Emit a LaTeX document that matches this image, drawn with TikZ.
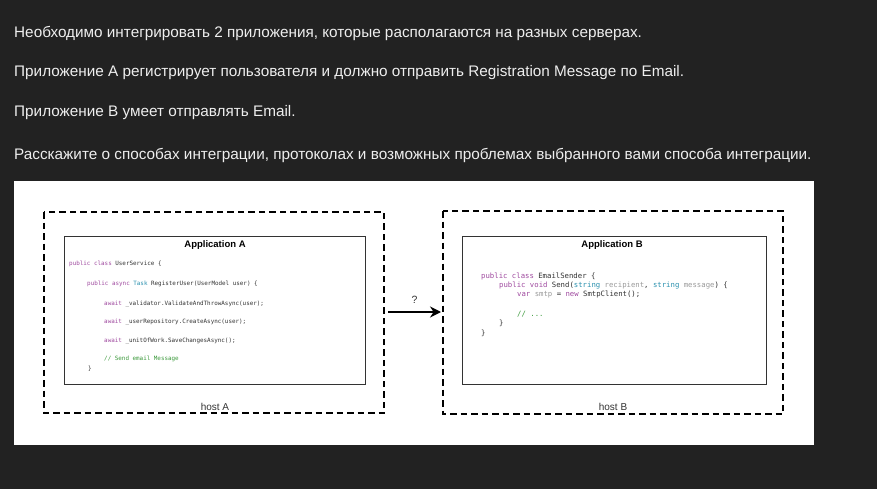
\documentclass[tikz,border=0pt]{standalone}
\usepackage{fontspec}
\setmainfont{Liberation Sans}
\newfontfamily\codefont{DejaVu Sans Mono}
\usetikzlibrary{arrows.meta}
\definecolor{bgdark}{HTML}{222222}
\definecolor{toptext}{HTML}{EEEEEE}
\definecolor{kw}{HTML}{A04BA0}
\definecolor{tp}{HTML}{2B91AF}
\definecolor{cm}{HTML}{3C9A3C}
\definecolor{idc}{HTML}{333333}
\definecolor{prm}{HTML}{9A9A9A}
\definecolor{boxline}{HTML}{333333}
\newcommand{\kwd}[1]{\textcolor{kw}{#1}}
\newcommand{\typ}[1]{\textcolor{tp}{#1}}
\newcommand{\cmt}[1]{\textcolor{cm}{#1}}
\newcommand{\prm}[1]{\textcolor{prm}{#1}}
\tikzset{
  toptxt/.style={anchor=west, inner sep=0pt, text=toptext, font=\fontsize{15.3}{17}\selectfont},
  hostbox/.style={draw=black, line width=1.9pt, dash pattern=on 6.5pt off 4pt},
  appbox/.style={draw=boxline, line width=0.9pt},
  title/.style={inner sep=0pt, font=\bfseries\fontsize{9.5}{11}\selectfont},
  codeA/.style={anchor=west, inner sep=0pt, text=idc, font=\codefont\fontsize{5.9}{7}\selectfont},
  codeB/.style={anchor=west, inner sep=0pt, text=idc, font=\codefont\fontsize{7.3}{8.5}\selectfont},
  hostlbl/.style={inner sep=0pt, font=\fontsize{10}{12}\selectfont, text=boxline},
}
\begin{document}
\begin{tikzpicture}[x=1pt,y=-1pt]
\fill[bgdark] (0,0) rectangle (877,489);
\useasboundingbox (0,0) rectangle (877,489);
\node[toptxt] (l1) at (14,33) {Необходимо интегрировать 2 приложения, которые располагаются на разных серверах.};
\node[toptxt] (l2) at (14,73) {Приложение А регистрирует пользователя и должно отправить Registration Message по Email.};
\node[toptxt] (l3) at (14,113) {Приложение В умеет отправлять Email.};
\node[toptxt] (l4) at (14,155) {Расскажите о способах интеграции, протоколах и возможных проблемах выбранного вами способа интеграции.};
\fill[white] (14,181) rectangle (814,445);
% host A
\draw[hostbox] (44,212) rectangle (384,413);
\draw[appbox, fill=white] (64,236) rectangle (365,384);
\node[title] (tA) at (215,245) {Application A};
\node[codeA] (a1) at (69,264) {\kwd{public class} UserService \{};
\node[codeA] (a2) at (87,284) {\kwd{public async} \typ{Task} RegisterUser(UserModel user) \{};
\node[codeA] (a3) at (104,304) {\kwd{await} \_validator.ValidateAndThrowAsync(user);};
\node[codeA] (a4) at (104,322) {\kwd{await} \_userRepository.CreateAsync(user);};
\node[codeA] (a5) at (104,341) {\kwd{await} \_unitOfWork.SaveChangesAsync();};
\node[codeA] (a6) at (104,359) {\cmt{// Send email Message}};
\node[codeA] (a7) at (88,369) {\}};
\node[hostlbl] (hA) at (215,407) {host A};
% host B
\draw[hostbox] (443,211) rectangle (783,414);
\coordinate (hBw) at (441,312);
\draw[appbox, fill=white] (462,236) rectangle (766,384);
\node[title] (tB) at (612,245) {Application B};
\node[codeB] (b1) at (481,276) {\kwd{public class} EmailSender \{};
\node[codeB] (b2) at (499,285) {\kwd{public void} Send(\typ{string} \prm{recipient}, \typ{string} \prm{message}) \{};
\node[codeB] (b3) at (517,294) {\kwd{var} \prm{smtp} = \kwd{new} SmtpClient();};
\node[codeB] (b4) at (517,314) {\cmt{// ...}};
\node[codeB] (b5) at (499,323) {\}};
\node[codeB] (b6) at (481,333) {\}};
\node[hostlbl] (hB) at (613,407) {host B};
% arrow
\coordinate (arS) at (388,312);
\draw[line width=2.8pt, -{Stealth[length=11pt,width=11pt]}] (arS) -- (hBw) node[midway, above=7pt, inner sep=0pt, font=\fontsize{10.5}{12}\selectfont, text=boxline] (q) {?};
\end{tikzpicture}
\end{document}
